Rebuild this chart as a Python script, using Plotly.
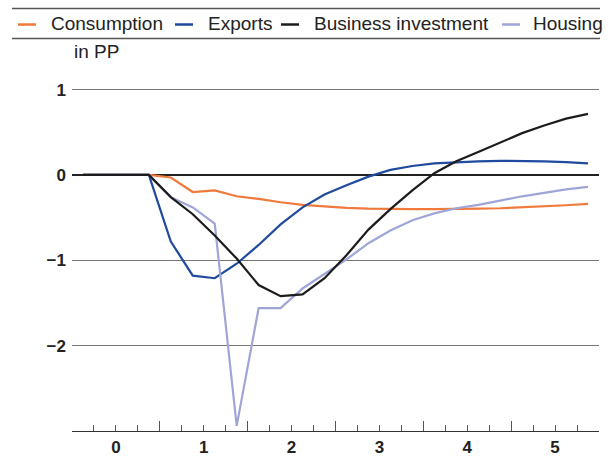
import plotly.graph_objects as go

# quarters after the shock, in years (points sit mid-quarter)
quarters = [-0.375, -0.125, 0.125, 0.375, 0.625, 0.875, 1.125, 1.375,
            1.625, 1.875, 2.125, 2.375, 2.625, 2.875, 3.125, 3.375,
            3.625, 3.875, 4.125, 4.375, 4.625, 4.875, 5.125, 5.375]

consumption = [0, 0, 0, 0, -0.03, -0.20, -0.18, -0.25, -0.28, -0.32, -0.35, -0.37,
               -0.385, -0.395, -0.40, -0.40, -0.40, -0.40, -0.395, -0.39, -0.38,
               -0.37, -0.355, -0.34]
exports = [0, 0, 0, 0, -0.78, -1.18, -1.21, -1.04, -0.82, -0.58, -0.38, -0.23,
           -0.12, -0.02, 0.06, 0.105, 0.135, 0.15, 0.16, 0.165, 0.165, 0.16,
           0.15, 0.135]
business = [0, 0, 0, 0, -0.26, -0.46, -0.71, -0.98, -1.29, -1.42, -1.40, -1.21,
            -0.94, -0.64, -0.40, -0.18, 0.02, 0.16, 0.27, 0.38, 0.49, 0.58,
            0.66, 0.715]
housing = [0, 0, 0, 0, -0.26, -0.38, -0.57, -2.94, -1.56, -1.56, -1.33, -1.16,
           -0.99, -0.80, -0.65, -0.53, -0.45, -0.39, -0.35, -0.30, -0.25, -0.21,
           -0.17, -0.14]

series_names = ["Consumption", "Exports", "Business investment", "Housing"]
colors = ["#f07a3c", "#1f4a9e", "#1c1c1c", "#a0a5d8"]

year_vals = [0, 1, 2, 3, 4, 5]
year_text = ["0", "1", "2", "3", "4", "5"]
y_vals = [1, 0, -1, -2]
y_text = ["1", "0", "\u22121", "\u22122"]

FONT = "Liberation Sans, Arial, sans-serif"
W, H = 614, 457
L, R, T, B = 72, 15, 64, 26


def px_x(p):
    return (p - L) / (W - L - R)


def px_y(p):
    return (H - B - p) / (H - T - B)


fig = go.Figure()
# draw order: black last so the flat start reads dark
for i in [0, 1, 3, 2]:
    ys = [consumption, exports, business, housing][i]
    fig.add_trace(go.Scatter(x=quarters, y=ys, mode="lines", name=series_names[i],
                             line=dict(color=colors[i], width=2.2),
                             showlegend=False, hoverinfo="skip"))

# quarter ticks (short) and year boundaries (tall)
q_ticks = [q / 4 for q in range(-1, 22) if q % 2 != 0 or q % 4 == 0]
q_text = [year_text[year_vals.index(int(v))] if v in year_vals else "" for v in q_ticks]
bounds = [b + 0.5 for b in range(-1, 6)]

fig.update_xaxes(range=[-0.5, 5.5], showgrid=False, zeroline=False, automargin=False,
                 showline=True, linecolor="#333", linewidth=1.3,
                 ticks="inside", ticklen=6, tickwidth=1, tickcolor="#555",
                 tickmode="array", tickvals=q_ticks, ticktext=q_text,
                 tickfont=dict(family=FONT, size=17, color="#222", weight="bold"),
                 minor=dict(tickmode="array", tickvals=bounds, ticks="inside",
                            ticklen=10, tickwidth=1, tickcolor="#555"))
fig.update_yaxes(range=[-3, 1.3], tickmode="array", tickvals=y_vals, ticktext=y_text,
                 automargin=False,
                 showgrid=True, gridcolor="#777", gridwidth=1,
                 zeroline=True, zerolinecolor="#222", zerolinewidth=2,
                 showline=False, ticks="", ticklabelstandoff=5,
                 tickfont=dict(family=FONT, size=17, color="#222", weight="bold"))

# legend band, drawn by hand between two rules
shapes = [
    dict(type="line", xref="paper", yref="paper", x0=px_x(12), x1=px_x(600),
         y0=px_y(8.5), y1=px_y(8.5), line=dict(color="#555", width=1.5)),
    dict(type="line", xref="paper", yref="paper", x0=px_x(12), x1=px_x(600),
         y0=px_y(38.5), y1=px_y(38.5), line=dict(color="#555", width=1.5)),
]
annotations = []
swatch_x = [18, 175, 281, 502]
text_x = [49, 206, 312, 531]
for i, name in enumerate(series_names):
    shapes.append(dict(type="line", xref="paper", yref="paper",
                       x0=px_x(swatch_x[i]), x1=px_x(swatch_x[i] + 18),
                       y0=px_y(24.5), y1=px_y(24.5),
                       line=dict(color=colors[i], width=2.5)))
    annotations.append(dict(text=name, xref="paper", yref="paper",
                            x=px_x(text_x[i]), y=px_y(24), xanchor="left",
                            yanchor="middle", showarrow=False,
                            font=dict(family=FONT, size=19, color="#222")))
annotations.append(dict(text="in PP", xref="paper", yref="paper",
                        x=px_x(72), y=px_y(52), xanchor="left", yanchor="middle",
                        showarrow=False, font=dict(family=FONT, size=19, color="#222")))

fig.update_layout(width=W, height=H, autosize=False,
                  margin=dict(l=L, r=R, t=T, b=B),
                  paper_bgcolor="white", plot_bgcolor="white",
                  shapes=shapes, annotations=annotations, showlegend=False)

# page margin off so the figure sits at the window's corner
fig.write_html("out.html", config={"displayModeBar": False},
               post_script="document.body.style.margin='0';")
